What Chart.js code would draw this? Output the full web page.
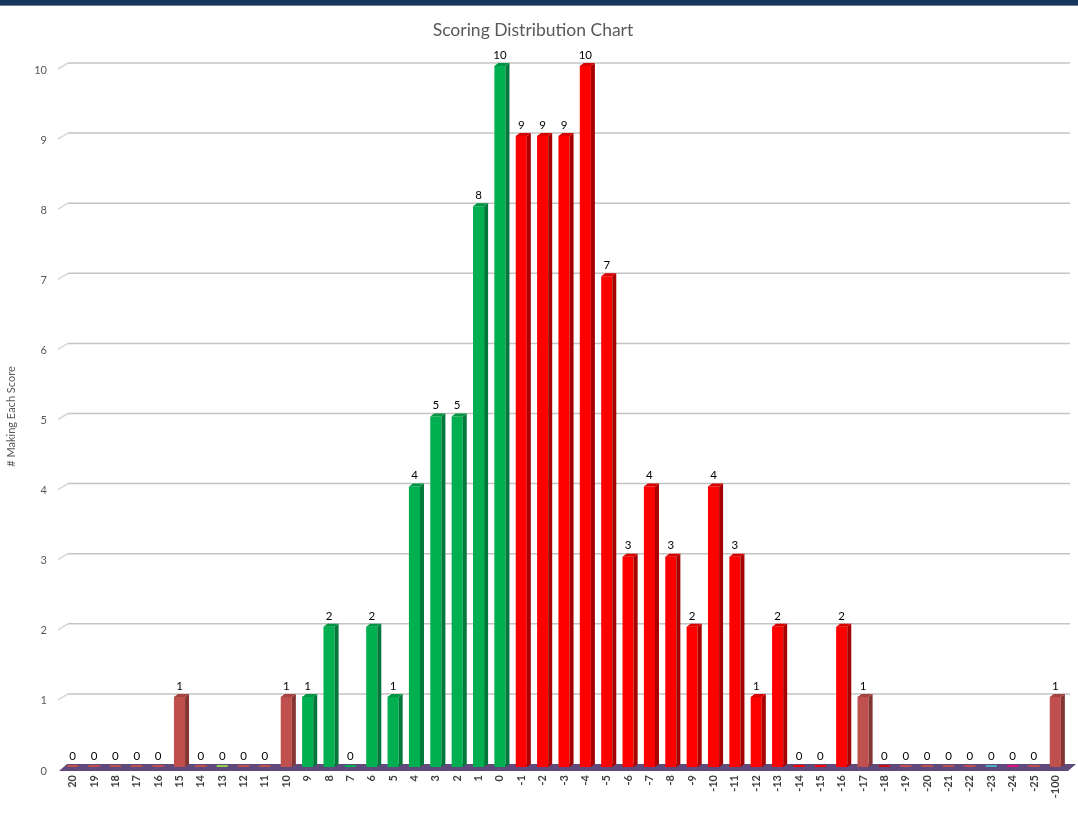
<!DOCTYPE html>
<html>
<head>
<meta charset="utf-8">
<script src="https://cdn.jsdelivr.net/npm/chart.js@4/dist/chart.umd.min.js"></script>
<style>
  html, body { margin: 0; padding: 0; background: #fff; }
  #header { position: absolute; top: 0; left: 0; width: 1078px; height: 5px; background: #17365d; border-bottom: 1px solid #6d7f99; z-index: 2; }
  #chart { position: absolute; top: 0; left: 0; }
</style>
</head>
<body>
<div id="header"></div>
<canvas id="chart" width="1078" height="817"></canvas>
<script>
// --- Data ---
const scores = ['20', '19', '18', '17', '16', '15', '14', '13', '12', '11',
    '10', '9', '8', '7', '6', '5', '4', '3', '2', '1', '0',
    '-1', '-2', '-3', '-4', '-5', '-6', '-7', '-8', '-9', '-10', '-11', '-12', '-13',
    '-14', '-15', '-16', '-17', '-18', '-19', '-20', '-21', '-22', '-23', '-24', '-25',
    '-100'];
const counts = [0, 0, 0, 0, 0, 1, 0, 0, 0, 0,
    1, 1, 2, 0, 2, 1, 4, 5, 5, 8, 10,
    9, 9, 9, 10, 7, 3, 4, 3, 2, 4, 3, 1, 2,
    0, 0, 2, 1, 0, 0, 0, 0, 0, 0, 0, 0,
    1];
const yTicks = [0, 1, 2, 3, 4, 5, 6, 7, 8, 9, 10];

const chartTitle = 'Scoring Distribution Chart';
const yTitle = '# Making Each Score';

// --- Colours ---
const GREEN = '#00b050', RED = '#ff0000', BROWN = '#c0504d';
const markerColors = { '13': '#92d050', '-18': '#d01010', '-23': '#4bacc6', '-24': '#e0107c' };
const sideShade = { '#00b050': '#00783a', '#ff0000': '#a80000', '#c0504d': '#843533' };

function colorFor(score) {
    if (markerColors[score]) return markerColors[score];
    const s = Number(score);
    if (s >= 0 && s <= 9) return GREEN;
    if (s <= -1 && s >= -16) return RED;
    return BROWN;
}
const barColors = scores.map(colorFor);

Chart.defaults.font.family = "Lato, 'Open Sans', sans-serif";

// grid lines + floor drawn with a small 3D offset, like the original
const backdropPlugin = {
    id: 'backdrop',
    beforeDatasetsDraw(chart) {
        const { ctx, chartArea: { left, right } } = chart;
        const y = chart.scales.y;
        ctx.save();
        yTicks.slice(1).forEach(v => {
            const yb = y.getPixelForValue(v) - 3;
            ctx.strokeStyle = '#c4c4c4';
            ctx.lineWidth = 1.5;
            ctx.beginPath();
            ctx.moveTo(left + 6, yb);
            ctx.lineTo(right + 4, yb);
            ctx.stroke();
            ctx.strokeStyle = '#d6d6d6';
            ctx.beginPath();
            ctx.moveTo(left - 4, yb + 6);
            ctx.lineTo(left + 6, yb);
            ctx.stroke();
        });
        // floor
        const y0 = y.getPixelForValue(0);
        ctx.fillStyle = '#604a7b';
        ctx.beginPath();
        ctx.moveTo(left - 3, y0 + 4);
        ctx.lineTo(left + 5, y0 - 3);
        ctx.lineTo(right + 10, y0 - 3);
        ctx.lineTo(right + 2, y0 + 4);
        ctx.closePath();
        ctx.fill();
        ctx.restore();
    }
};

// side/top faces and value labels
const facesPlugin = {
    id: 'faces',
    afterDatasetsDraw(chart) {
        const { ctx } = chart;
        const y = chart.scales.y;
        const meta = chart.getDatasetMeta(0);
        ctx.save();
        meta.data.forEach((bar, i) => {
            const v = counts[i];
            const half = bar.width / 2;
            if (v > 0) {
                const c = barColors[i];
                const dark = sideShade[c] || '#555';
                ctx.fillStyle = dark;
                ctx.beginPath();
                ctx.moveTo(bar.x + half, bar.y);
                ctx.lineTo(bar.x + half + 4, bar.y - 3);
                ctx.lineTo(bar.x + half + 4, bar.base - 3);
                ctx.lineTo(bar.x + half, bar.base);
                ctx.closePath();
                ctx.fill();
                ctx.fillStyle = c;
                ctx.beginPath();
                ctx.moveTo(bar.x - half, bar.y);
                ctx.lineTo(bar.x - half + 4, bar.y - 3);
                ctx.lineTo(bar.x + half + 4, bar.y - 3);
                ctx.lineTo(bar.x + half, bar.y);
                ctx.closePath();
                ctx.fill();
                ctx.fillStyle = 'rgba(0,0,0,0.15)';
                ctx.fill();
            }
            ctx.fillStyle = '#000';
            ctx.font = "11.5px Lato, 'Open Sans', sans-serif";
            ctx.textAlign = 'center';
            ctx.textBaseline = 'middle';
            ctx.fillText(String(v), bar.x, y.getPixelForValue(v) - 11);
        });
        ctx.restore();
    }
};

new Chart(document.getElementById('chart'), {
    type: 'bar',
    data: {
        labels: scores,
        datasets: [{
            data: counts,
            backgroundColor: barColors,
            borderWidth: 0,
            barPercentage: 0.52,
            categoryPercentage: 1,
            minBarLength: 2
        }]
    },
    options: {
        responsive: false,
        animation: false,
        devicePixelRatio: 1,
        layout: { padding: { left: 0, right: 12, top: 0, bottom: 0 } },
        plugins: {
            legend: { display: false },
            tooltip: { enabled: false },
            title: {
                display: true,
                text: chartTitle,
                color: '#595959',
                font: { size: 17.5, weight: 'normal' },
                padding: { top: 20, bottom: 25 }
            }
        },
        scales: {
            x: {
                grid: { display: false, drawTicks: false },
                border: { display: false },
                ticks: {
                    autoSkip: false,
                    minRotation: 90,
                    maxRotation: 90,
                    padding: 8,
                    color: '#404040',
                    font: { size: 11, weight: 'bold' }
                },
                afterFit: s => { s.height = 50; }
            },
            y: {
                min: 0,
                max: 10,
                grid: { display: false, drawTicks: false },
                border: { display: false },
                ticks: {
                    stepSize: 1,
                    padding: 15,
                    labelOffset: 4,
                    color: '#595959',
                    font: { size: 11 }
                },
                title: {
                    display: true,
                    text: yTitle,
                    color: '#595959',
                    font: { size: 11 },
                    padding: { top: 5, bottom: 0 }
                },
                afterFit: s => { s.width = 62; }
            }
        }
    },
    plugins: [backdropPlugin, facesPlugin]
});
</script>
</body>
</html>
